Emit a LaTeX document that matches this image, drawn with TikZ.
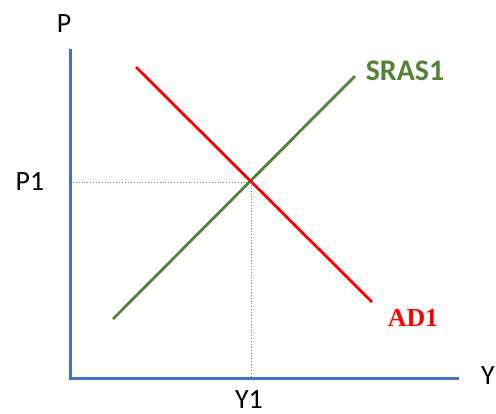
\documentclass[tikz,border=0pt]{standalone}
\usepackage{fontspec}
\setmainfont{Carlito}
\newfontfamily\serifbold{Liberation Serif}
\begin{document}
\begin{tikzpicture}[x=1bp,y=-1bp,
  axis/.style={draw={rgb,255:red,68;green,114;blue,196}, line width=3bp},
  guide/.style={draw=gray, dotted, line width=0.9bp},
  curvegreen/.style={draw={rgb,255:red,84;green,130;blue,53}, line width=2.8bp},
  curvered/.style={draw={rgb,255:red,255;green,0;blue,0}, line width=2.8bp},
  lab/.style={inner sep=0pt, font=\fontsize{28}{28}\selectfont}
]
\useasboundingbox (0,0) rectangle (496,413);
\coordinate (O) at (70,378);
\coordinate (Ptop) at (70,49);
\coordinate (Xend) at (459,378);
\coordinate (E) at (251,182);
\coordinate (Ey) at (70,182);
\coordinate (Ex) at (251,378);
\coordinate (ad1) at (136,67);
\coordinate (ad2) at (372,302);
\coordinate (as1) at (113,319);
\coordinate (as2) at (355,76);
\draw[guide] (Ey) -- (E);
\draw[guide] (E) -- (Ex);
\draw[axis] (Ptop) -- (O) -- (Xend);
\draw[curvegreen] (as1) -- (as2);
\draw[curvered] (ad1) -- (ad2);
\node[lab] (P) at (64,24) {P};
\node[lab] (P1) at (30,182) {P1};
\node[lab] (Y1) at (249,399.5) {Y1};
\node[lab, anchor=west] (Y) at (481,376) {Y};
\node[inner sep=0pt, font=\fontsize{30}{30}\selectfont\bfseries, text={rgb,255:red,84;green,130;blue,53}] (sras) at (405,71) {SRAS1};
\node[inner sep=0pt, font=\fontsize{26}{26}\selectfont\serifbold\bfseries, text={rgb,255:red,255;green,0;blue,0}] (ad) at (413,318) {AD1};
\end{tikzpicture}
\end{document}
